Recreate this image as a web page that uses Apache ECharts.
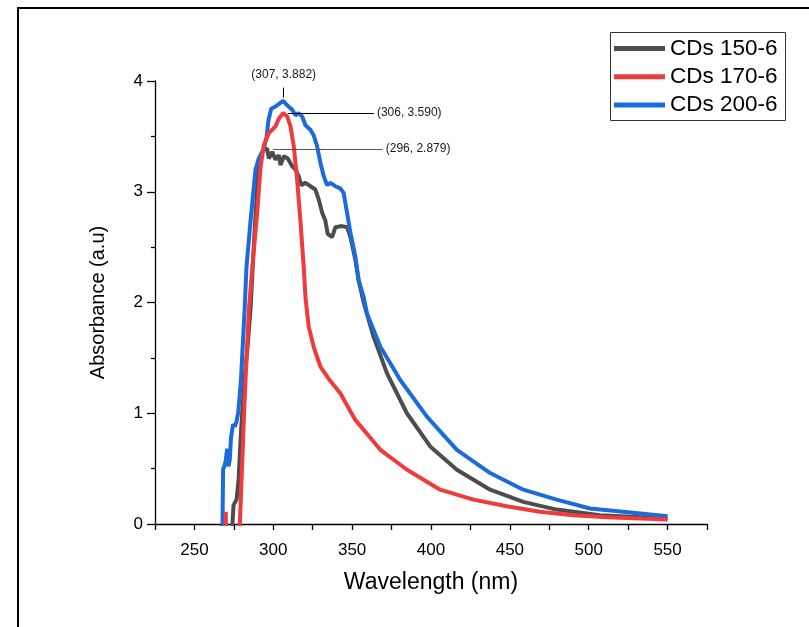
<html>
  <head>
    <script src="https://cdn.jsdelivr.net/npm/echarts@6.0.0/dist/echarts.min.js"></script>
    <title>CDs absorbance</title>
  </head>
  <body style="margin:0; background-color:#ffffff;">
    <div id="chart" style="width:809px; height:627px;"></div>
    <script>
      // wavelength (nm), absorbance (a.u)
      const cds150 = [
        [272.0, -0.5], [274.1, 0], [274.8, 0.17], [276.7, 0.22], [278.0, 0.4], [279.6, 0.85],
        [281.7, 1.3], [283.7, 1.6], [285.6, 1.95], [287.6, 2.5], [289.6, 3.0], [290.8, 3.29],
        [294.0, 3.38], [296.1, 3.39], [297.2, 3.30], [299.3, 3.36], [301.4, 3.29], [303.5, 3.33],
        [304.6, 3.24], [306.7, 3.32], [309.2, 3.30], [312.0, 3.23], [314.1, 3.2], [316.1, 3.14],
        [317.7, 3.06], [320.4, 3.08], [323.5, 3.05], [326.7, 3.02], [328.8, 2.93], [331.0, 2.81],
        [333.0, 2.74], [334.5, 2.62], [337.3, 2.59], [339.4, 2.68], [343.6, 2.69], [346.8, 2.68],
        [348.9, 2.59], [352.1, 2.38], [354.1, 2.2], [357.3, 2.0], [363.6, 1.69], [372.1, 1.36],
        [384.7, 1.0], [399.5, 0.70], [416.4, 0.49], [437.5, 0.31], [458.5, 0.20], [479.7, 0.13],
        [507.1, 0.08], [550, 0.05]
      ];
      const cds170 = [
        [269.6, -0.3], [269.9, 0.11], [270.2, -0.3], [277.5, -0.5], [278.8, 0], [281.5, 1.0],
        [282.4, 1.3], [284.5, 1.93], [286.7, 2.32], [289.8, 2.81], [291.9, 3.22], [294.0, 3.42],
        [297.2, 3.53], [299.3, 3.56], [301.4, 3.59], [303.5, 3.66], [306.3, 3.71], [308.8, 3.68],
        [310.9, 3.59], [313.0, 3.41], [315.1, 3.11], [317.2, 2.74], [319.3, 2.32], [320.4, 2.05],
        [321.5, 1.9], [322.5, 1.78], [325.6, 1.60], [329.9, 1.42], [335.7, 1.3], [342.5, 1.18],
        [352.0, 0.94], [367.9, 0.67], [384.8, 0.49], [405.8, 0.31], [426.9, 0.22], [448.0, 0.16],
        [469.1, 0.11], [490.2, 0.08], [511.3, 0.06], [550, 0.04]
      ];
      const cds200 = [
        [266.5, -0.6], [267.8, 0], [268.2, 0.5], [269.0, 0.52], [269.8, 0.57], [270.8, 0.68],
        [271.6, 0.52], [272.4, 0.58], [273.2, 0.78], [274.5, 0.9], [275.6, 0.88], [276.6, 0.92],
        [277.8, 1.01], [279.5, 1.3], [281.8, 1.93], [283.0, 2.32], [285.6, 2.74], [288.7, 3.2],
        [290.8, 3.30], [294.0, 3.39], [295.7, 3.49], [297.0, 3.65], [298.7, 3.75], [301.4, 3.77],
        [303.3, 3.79], [306.3, 3.82], [308.8, 3.78], [312.0, 3.74], [314.1, 3.69], [316.0, 3.71],
        [318.3, 3.68], [320.4, 3.6], [323.5, 3.56], [325.6, 3.51], [327.8, 3.41], [329.9, 3.26],
        [332.0, 3.14], [334.1, 3.06], [336.2, 3.08], [339.3, 3.05], [342.5, 3.03], [344.6, 2.99],
        [346.8, 2.81], [348.9, 2.63], [352.1, 2.41], [354.1, 2.2], [357.3, 2.05], [359.4, 1.90],
        [367.9, 1.60], [380.5, 1.30], [397.4, 0.97], [416.4, 0.67], [437.5, 0.46], [458.5, 0.31],
        [479.7, 0.22], [500.8, 0.14], [521.8, 0.11], [550, 0.07]
      ];
      const seriesNames = ['CDs 150-6', 'CDs 170-6', 'CDs 200-6'];
      const colors = ['#4d4d4d', '#ef3b3b', '#1b6bdc'];
      // peak labels: [line start, line end, text]
      const peakLabels = [
        [[299.7, 3.386], [369.4, 3.386], '(296, 2.879)'],
        [[309.2, 3.71], [363.8, 3.71], '(306, 3.590)'],
        [[306.6, 3.85], [306.6, 3.94], '(307, 3.882)']
      ];

      const font = '"Liberation Sans", Arial, sans-serif';
      const chart = echarts.init(document.getElementById('chart'));

      const allData = [cds150, cds170, cds200];
      const series = allData.map((d, i) => ({
        name: seriesNames[i],
        type: 'line',
        data: d,
        showSymbol: false,
        lineStyle: { width: 4, color: colors[i] },
        itemStyle: { color: colors[i] },
        z: i === 1 ? 3 : 2,
        markLine: {
          silent: true,
          symbol: 'none',
          lineStyle: { color: i === 0 ? '#555' : '#000', width: 1, type: 'solid' },
          label: {
            show: true,
            position: 'end',
            distance: 3,
            formatter: peakLabels[i][2],
            fontFamily: font,
            fontSize: 12,
            color: '#1a1a1a'
          },
          data: [[{ coord: peakLabels[i][0] }, { coord: peakLabels[i][1] }]]
        }
      }));

      chart.setOption({
        animation: false,
        backgroundColor: '#ffffff',
        textStyle: { fontFamily: font },
        grid: { left: 155, right: 102, top: 81, bottom: 103, outerBoundsMode: 'none' },
        graphic: [
          {
            type: 'rect',
            shape: { x: 18, y: 8, width: 900, height: 800 },
            style: { fill: 'none', stroke: '#000', lineWidth: 2 },
            silent: true
          },
          {
            // legend frame
            type: 'rect',
            shape: { x: 610.5, y: 32.5, width: 175, height: 88 },
            style: { fill: 'none', stroke: '#333', lineWidth: 1 },
            silent: true
          }
        ],
        legend: {
          left: 614,
          top: 29,
          orient: 'vertical',
          icon: 'rect',
          itemWidth: 51,
          itemHeight: 5,
          itemGap: -10.5,
          padding: 0,
          textStyle: { fontFamily: font, fontSize: 22.5, color: '#000' },
          data: seriesNames
        },
        xAxis: {
          type: 'value',
          min: 225,
          max: 575,
          interval: 25,
          name: 'Wavelength (nm)',
          nameLocation: 'middle',
          nameGap: 39,
          nameMoveOverlap: false,
          nameTextStyle: { fontFamily: font, fontSize: 23, color: '#000' },
          axisLine: { show: true, lineStyle: { color: '#000', width: 1.3 } },
          axisTick: { show: true, inside: false, length: 6, lineStyle: { color: '#000', width: 1.3 } },
          axisLabel: {
            fontSize: 17, color: '#000', margin: 12,
            formatter: v => (v % 50 === 0 ? String(v) : '')
          },
          splitLine: { show: false }
        },
        yAxis: {
          type: 'value',
          min: 0,
          max: 4,
          interval: 1,
          name: 'Absorbance (a.u)',
          nameLocation: 'middle',
          nameGap: 39,
          nameMoveOverlap: false,
          nameTextStyle: { fontFamily: font, fontSize: 20, color: '#000' },
          axisLine: { show: true, lineStyle: { color: '#000', width: 1.3 } },
          axisTick: { show: true, inside: false, length: 8, lineStyle: { color: '#000', width: 1.3 } },
          minorTick: { show: true, splitNumber: 2, length: 4, lineStyle: { color: '#000', width: 1.3 } },
          axisLabel: { fontSize: 17, color: '#000', margin: 12 },
          splitLine: { show: false }
        },
        series: series
      });
    </script>
  </body>
</html>
